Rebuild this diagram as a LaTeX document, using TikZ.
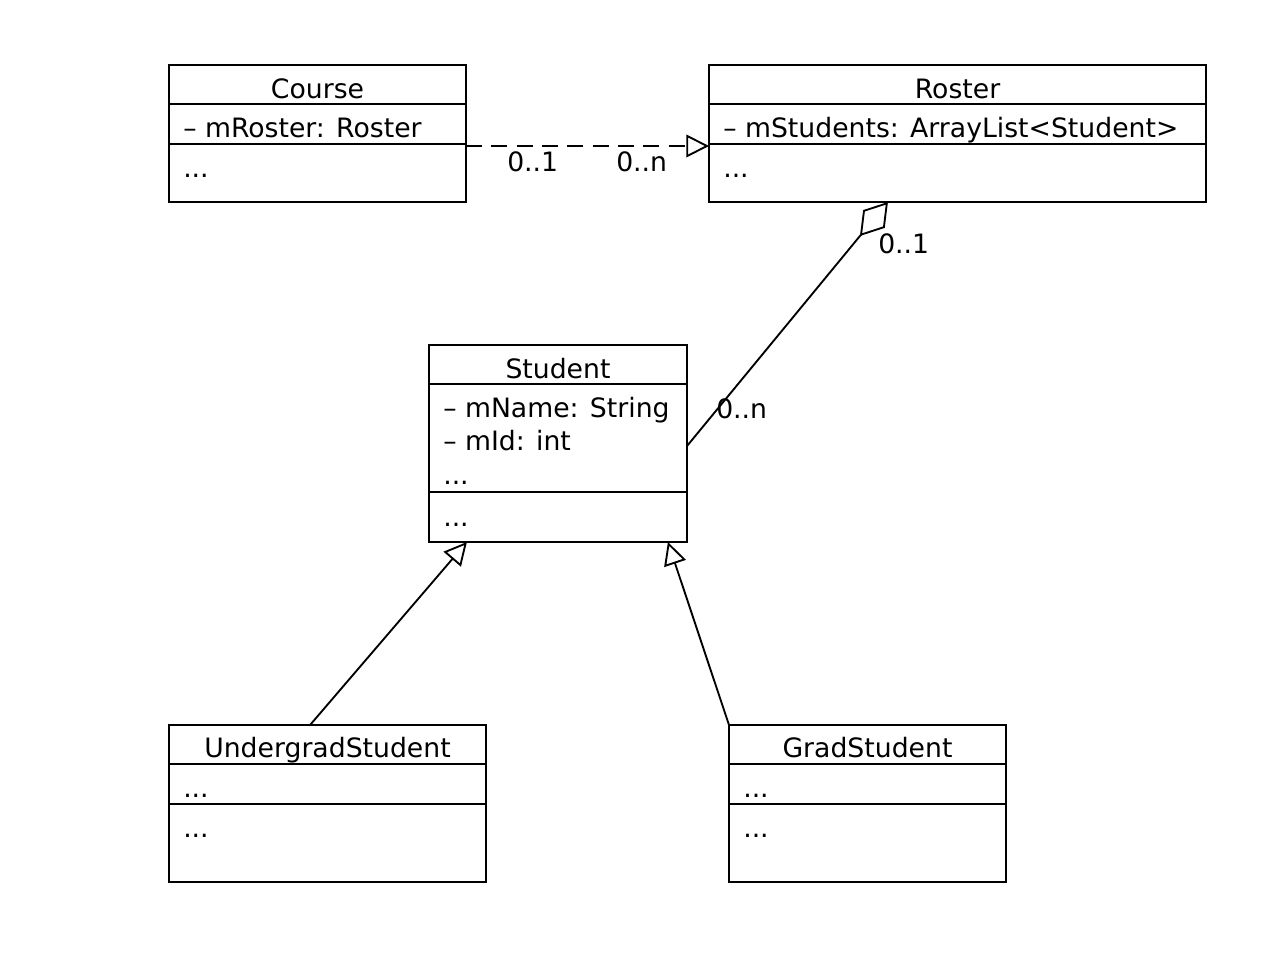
\documentclass[tikz,border=0pt]{standalone}
\usepackage{fontspec}
\setmainfont{DejaVu Sans}
\usetikzlibrary{arrows.meta,fit,calc}

\tikzset{
  part/.style={draw, line width=1.5pt, inner sep=0pt, outer sep=0pt},
  title/.style={anchor=base, inner sep=0pt},
  member/.style={anchor=base west, inner sep=0pt},
  mult/.style={anchor=base west, inner sep=0pt},
  depend/.style={line width=1.4pt, dash pattern=on 12pt off 7pt, -{Triangle[open, length=17pt, width=17pt]}},
  inherit/.style={line width=1.4pt, -{Triangle[open, length=17pt, width=17pt]}},
  aggr/.style={line width=1.4pt, {Diamond[open, length=33pt, width=21pt]}-}
}

\begin{document}
\begin{tikzpicture}[x=0.75pt, y=-0.75pt, font=\fontsize{20}{24}\selectfont]
            \useasboundingbox (0,0) rectangle (1266,954);
            \node[part, fit={(169,65) (466,104)}] (course-name) {};
            \node[part, fit={(169,104) (466,144)}] (course-attr) {};
            \node[part, fit={(169,144) (466,202)}] (course-ops) {};
            \node[title] (course-t) at (317.5,98) {Course};
            \node[member] (course-a1) at (183,137) {– mRoster: Roster};
            \node[member] (course-o1) at (183,177) {...};
            \node[part, fit={(709,65) (1206,104)}] (roster-name) {};
            \node[part, fit={(709,104) (1206,144)}] (roster-attr) {};
            \node[part, fit={(709,144) (1206,202)}] (roster-ops) {};
            \node[title] (roster-t) at (957.5,98) {Roster};
            \node[member] (roster-a1) at (723,137) {– mStudents: ArrayList<Student>};
            \node[member] (roster-o1) at (723,177) {...};
            \node[part, fit={(429,345) (687,384)}] (student-name) {};
            \node[part, fit={(429,384) (687,492)}] (student-attr) {};
            \node[part, fit={(429,492) (687,542)}] (student-ops) {};
            \node[title] (student-t) at (558,378) {Student};
            \node[member] (student-a1) at (443,417) {– mName: String};
            \node[member] (student-a2) at (443,450) {– mId: int};
            \node[member] (student-a3) at (443,484) {...};
            \node[member] (student-o1) at (443,526) {...};
            \node[part, fit={(169,725) (486,764)}] (under-name) {};
            \node[part, fit={(169,764) (486,804)}] (under-attr) {};
            \node[part, fit={(169,804) (486,882)}] (under-ops) {};
            \node[title] (under-t) at (327.5,757) {UndergradStudent};
            \node[member] (under-a1) at (183,797) {...};
            \node[member] (under-o1) at (183,837) {...};
            \node[part, fit={(729,725) (1006,764)}] (grad-name) {};
            \node[part, fit={(729,764) (1006,804)}] (grad-attr) {};
            \node[part, fit={(729,804) (1006,882)}] (grad-ops) {};
            \node[title] (grad-t) at (867.5,757) {GradStudent};
            \node[member] (grad-a1) at (743,797) {...};
            \node[member] (grad-o1) at (743,837) {...};
            \draw[depend] ($(course-ops.north east)+(0,2)$) -- ($(roster-ops.north west)+(0,2)$);
            \node[mult] (dep-from) at (507,171) {0..1};
            \node[mult] (dep-to) at (616,171) {0..n};
            \draw[aggr] ($(roster-ops.south west)!0.36!(roster-ops.south east)$) -- ($(student-attr.east)+(0,8)$);
            \node[mult] (agg-whole) at (878,253) {0..1};
            \node[mult] (agg-part) at (716,418) {0..n};
            \draw[inherit] ($(under-name.north west)!0.445!(under-name.north east)$) -- ($(student-ops.south west)!0.147!(student-ops.south east)$);
            \draw[inherit] (grad-name.north west) -- ($(student-ops.south west)!0.926!(student-ops.south east)$);
        \end{tikzpicture}
\end{document}
